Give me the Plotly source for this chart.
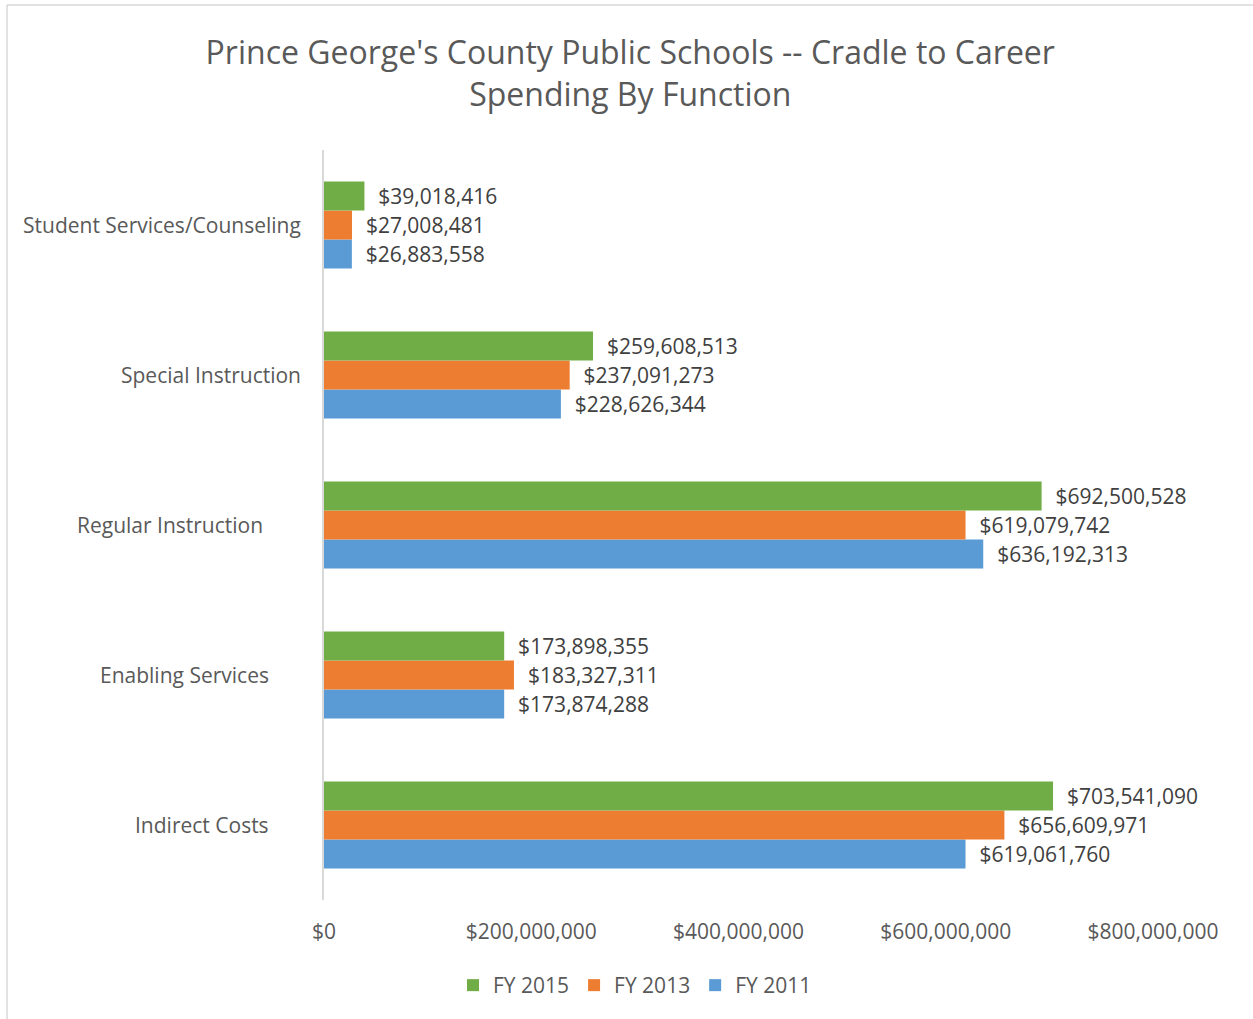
import plotly.graph_objects as go

categories = ["Student Services/Counseling", "Special Instruction", "Regular Instruction",
              "Enabling Services", "Indirect Costs"]
fy2015 = [39018416, 259608513, 692500528, 173898355, 703541090]
fy2013 = [27008481, 237091273, 619079742, 183327311, 656609971]
fy2011 = [26883558, 228626344, 636192313, 173874288, 619061760]
series_names = ["FY 2011", "FY 2013", "FY 2015"]
series_values = [fy2011, fy2013, fy2015]
series_colors = ["#5B9BD5", "#ED7D31", "#70AD47"]
tick_vals = [0, 200000000, 400000000, 600000000, 800000000]
tick_text = ["$0", "$200,000,000", "$400,000,000", "$600,000,000", "$800,000,000"]
# horizontal offset (px) of each category label's right edge from the axis
label_shift = [-21, -21, -59, -53, -53]

FONT = "Open Sans"
W, H = 1253, 1019
L, T, B, R = 324, 150, 119, 100
PW, PH = W - L - R, H - T - B

fig = go.Figure()
for name, vals, col in zip(series_names, series_values, series_colors):
    fig.add_trace(go.Bar(
        y=categories, x=vals, name=name, orientation="h",
        marker=dict(color=col, line=dict(width=0)),
        text=["\u00a0\u00a0${:,}".format(v) for v in vals],
        textposition="outside", constraintext="none", cliponaxis=False,
        textfont=dict(family=FONT, size=21, color="#404040"),
        hoverinfo="skip",
    ))

for cat, sh in zip(categories, label_shift):
    fig.add_annotation(x=0, xref="paper", y=cat, yref="y", text=cat, showarrow=False,
                       xanchor="right", xshift=sh,
                       font=dict(family=FONT, size=21, color="#595959"))

fig.update_layout(
    width=W, height=H,
    margin=dict(l=L, r=R, t=T, b=B, autoexpand=False),
    paper_bgcolor="white", plot_bgcolor="white",
    barmode="group", bargap=0.42, bargroupgap=0,
    title=dict(text="Prince George's County Public Schools -- Cradle to Career<br>Spending By Function",
               x=0.503, xanchor="center", y=0.937, yanchor="top",
               font=dict(family=FONT, size=32, color="#595959")),
    xaxis=dict(range=[0, 800000000], tickvals=tick_vals, ticktext=tick_text,
               showgrid=False, zeroline=False, showline=False, ticks="",
               tickfont=dict(family=FONT, size=21, color="#595959"), ticklabelstandoff=17),
    yaxis=dict(categoryorder="array", categoryarray=categories[::-1],
               showticklabels=False, showgrid=False, zeroline=False,
               showline=True, linecolor="#D9D9D9", linewidth=2, ticks=""),
    legend=dict(orientation="h", x=(635 - L) / PW, xanchor="center", y=-65 / PH, yanchor="top",
                traceorder="reversed", font=dict(family=FONT, size=21, color="#595959"),
                itemwidth=30),
    showlegend=True,
    shapes=[
        dict(type="line", xref="paper", yref="paper",
             x0=(7 - L) / PW, x1=(7 - L) / PW, y0=-(B + 5) / PH, y1=1 + (T - 5) / PH,
             line=dict(color="#D9D9D9", width=1.5)),
        dict(type="line", xref="paper", yref="paper",
             x0=(7 - L) / PW, x1=1 + (R + 5) / PW, y0=1 + (T - 5) / PH, y1=1 + (T - 5) / PH,
             line=dict(color="#D9D9D9", width=1.5)),
    ],
)
fig.write_html("out.html", config={"displayModeBar": False},
               post_script="document.body.style.margin='0';document.body.style.overflow='hidden';")
